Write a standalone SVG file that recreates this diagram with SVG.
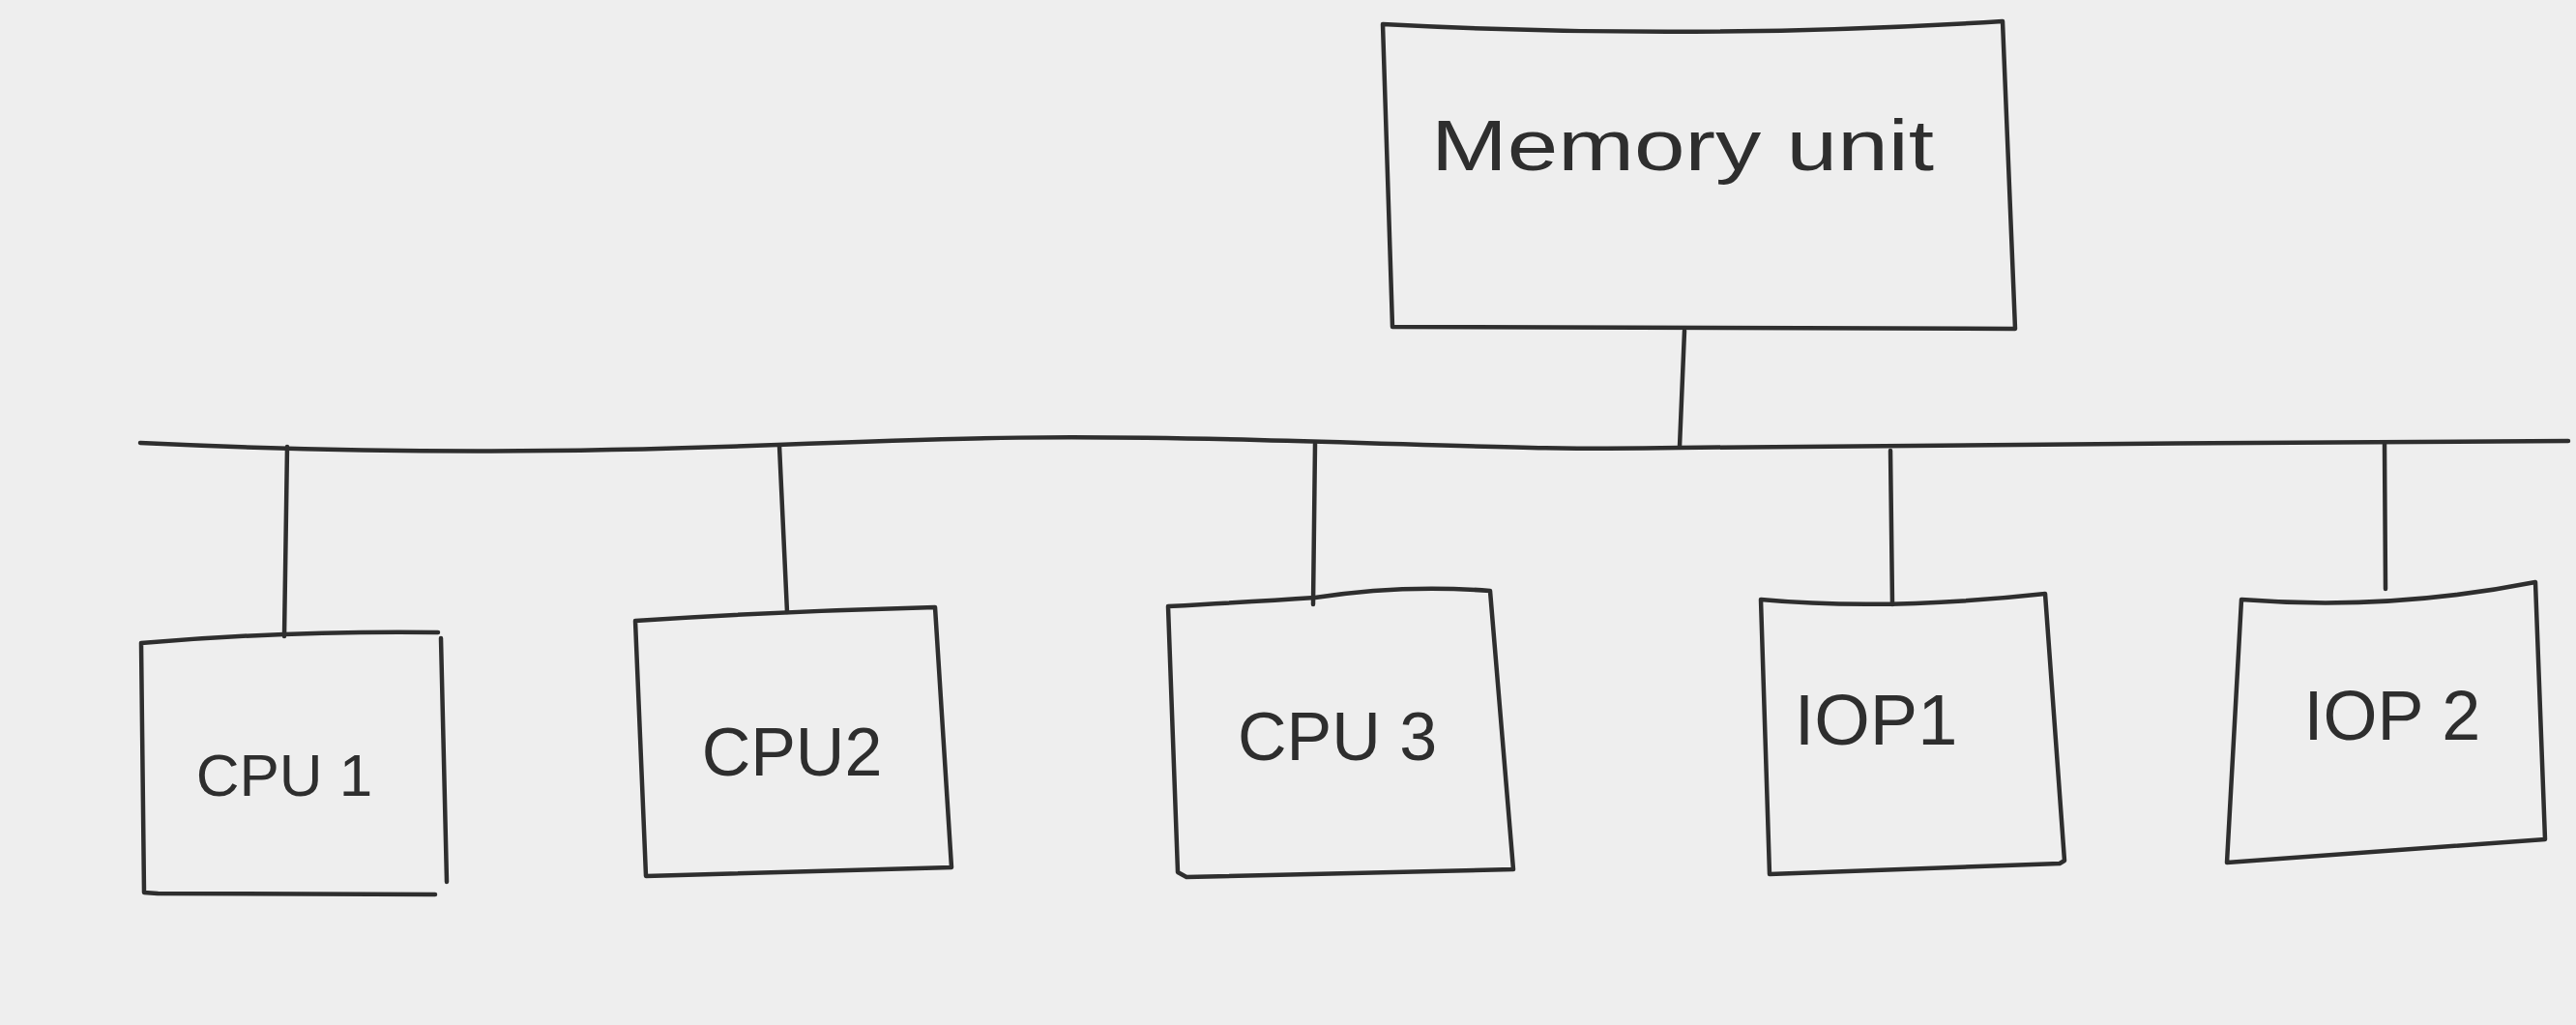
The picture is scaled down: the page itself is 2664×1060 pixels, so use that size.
<svg xmlns="http://www.w3.org/2000/svg" width="2664" height="1060" viewBox="0 0 2664 1060">
<style>
.ln{fill:none;stroke:#2e2e2e;stroke-width:4.5;stroke-linecap:round;stroke-linejoin:round}
.lb{font-family:"Liberation Sans","DejaVu Sans",sans-serif;fill:#2e2e2e;text-anchor:middle}
</style>
<rect width="2664" height="1060" fill="#eeeeee"/>
<g id="connectors">
<path class="ln" d="M145,458 C400,470 600,468 804,460 S1100,450 1300,455 S1600,466 1736,463 S2400,458 2656,456"/>
<path class="ln" d="M1742,342 L1737,462"/>
<path class="ln" d="M297,462 L294,658"/>
<path class="ln" d="M806,461 L814,633"/>
<path class="ln" d="M1360,459 L1358,625"/>
<path class="ln" d="M1955,466 L1957,625"/>
<path class="ln" d="M2466,459 L2467,609"/>
</g>
<g id="memory">
<path class="ln" d="M1430,25 Q1750,42 2071,22 L2084,340 L1440,338 Z"/>
<text class="lb" x="1740" y="176" font-size="74" textLength="520" lengthAdjust="spacingAndGlyphs">Memory unit</text>
</g>
<g id="cpu1">
<path class="ln" d="M146,665 Q300,652 453,654 M456,660 L462,912 M163,924 L450,925 M146,665 L149,923 L163,924"/>
<text class="lb" x="294" y="823" font-size="62">CPU 1</text>
</g>
<g id="cpu2">
<path class="ln" d="M657,642 Q810,632 967,628 L984,897 L668,906 L657,642"/>
<text class="lb" x="819" y="802" font-size="70">CPU2</text>
</g>
<g id="cpu3">
<path class="ln" d="M1208,627 Q1300,622 1360,618 Q1450,604 1541,611 L1565,899 L1227,907 M1208,627 L1218,902 L1227,907"/>
<text class="lb" x="1383" y="786" font-size="70">CPU 3</text>
</g>
<g id="iop1">
<path class="ln" d="M1821,620 Q1950,632 2115,614 L2135,890 L2130,893 L1830,904 L1821,620"/>
<text class="lb" x="1940" y="770" font-size="74">IOP1</text>
</g>
<g id="iop2">
<path class="ln" d="M2318,620 Q2470,632 2622,602 L2632,868 L2303,892 L2318,620"/>
<text class="lb" x="2474" y="765" font-size="72">IOP 2</text>
</g>
</svg>
